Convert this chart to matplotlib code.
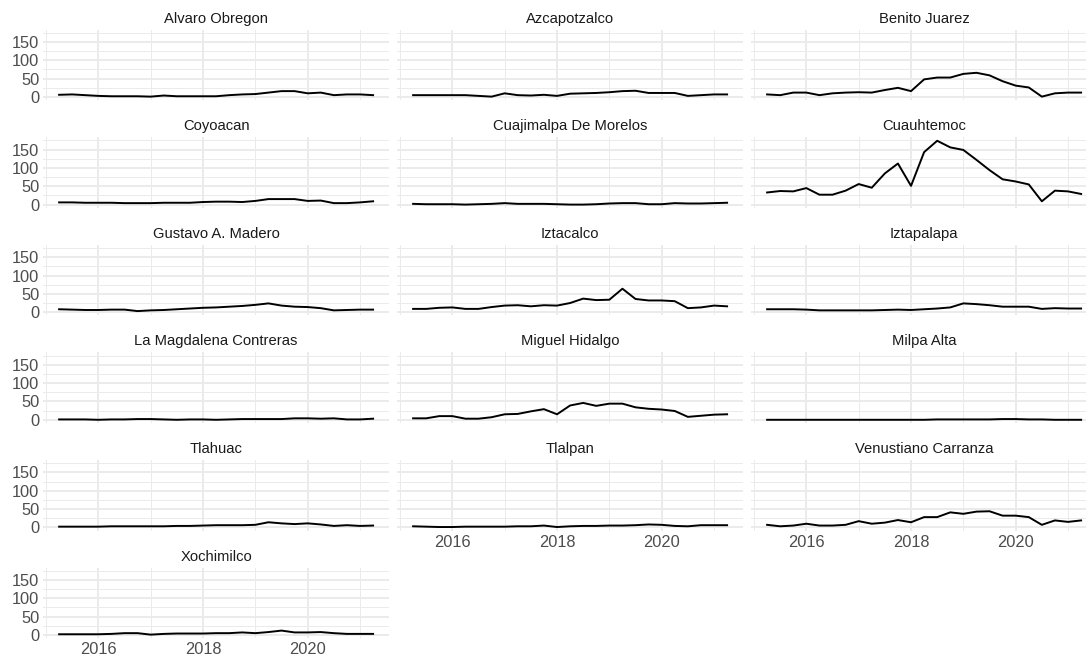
import matplotlib
matplotlib.use("Agg")
import matplotlib.pyplot as plt
from matplotlib.ticker import MultipleLocator

# quarterly time axis (decimal years)
fechas = [2015.25, 2015.5, 2015.75, 2016.0, 2016.25, 2016.5, 2016.75, 2017.0,
          2017.25, 2017.5, 2017.75, 2018.0, 2018.25, 2018.5, 2018.75, 2019.0,
          2019.25, 2019.5, 2019.75, 2020.0, 2020.25, 2020.5, 2020.75, 2021.0,
          2021.25]

alcaldias = ["Alvaro Obregon", "Azcapotzalco", "Benito Juarez", "Coyoacan",
             "Cuajimalpa De Morelos", "Cuauhtemoc", "Gustavo A. Madero",
             "Iztacalco", "Iztapalapa", "La Magdalena Contreras",
             "Miguel Hidalgo", "Milpa Alta", "Tlahuac", "Tlalpan",
             "Venustiano Carranza", "Xochimilco"]

alvaro = [6, 7, 5, 3, 2, 2, 2, 1, 4, 2, 2, 2, 2, 5, 7, 8, 12, 16, 16, 10, 12, 5, 7, 7, 5]
azcapotzalco = [5, 5, 5, 5, 5, 3, 1, 10, 5, 4, 6, 3, 9, 10, 11, 13, 16, 17, 11, 11, 11, 3, 5, 7, 7]
benito = [7, 5, 12, 12, 5, 10, 12, 13, 12, 19, 25, 16, 48, 53, 53, 63, 66, 59, 43, 31, 26, 1, 10, 12, 12]
coyoacan = [6, 6, 5, 5, 5, 4, 4, 4, 5, 5, 5, 7, 8, 8, 7, 10, 15, 15, 15, 10, 11, 4, 4, 6, 9]
cuajimalpa = [2, 1, 1, 1, 0, 1, 2, 4, 2, 2, 2, 1, 0, 0, 1, 3, 4, 4, 1, 1, 4, 3, 3, 4, 5]
cuauhtemoc = [33, 37, 36, 45, 27, 27, 38, 56, 46, 85, 112, 51, 143, 174, 156, 149, 122, 94, 69, 63, 55, 9, 38, 36, 29]
gustavo = [8, 7, 6, 6, 7, 7, 3, 5, 6, 8, 10, 12, 13, 15, 17, 20, 24, 18, 15, 14, 11, 5, 6, 7, 7]
iztacalco = [9, 9, 12, 13, 9, 9, 14, 18, 19, 16, 19, 18, 25, 37, 33, 34, 64, 36, 32, 32, 30, 11, 13, 18, 16]
iztapalapa = [8, 8, 8, 7, 5, 5, 5, 5, 5, 6, 7, 6, 8, 10, 13, 24, 22, 19, 15, 15, 15, 9, 11, 10, 10]
magdalena = [1, 1, 1, 0, 1, 1, 2, 2, 1, 0, 1, 1, 0, 1, 2, 2, 2, 2, 4, 4, 3, 4, 1, 1, 3]
miguel = [4, 4, 10, 10, 3, 3, 7, 15, 16, 23, 29, 15, 39, 46, 38, 44, 44, 34, 30, 28, 24, 8, 11, 14, 15]
milpa = [0, 0, 0, 0, 0, 0, 0, 0, 0, 0, 0, 0, 0, 1, 1, 1, 1, 1, 2, 2, 1, 1, 0, 0, 0]
tlahuac = [2, 2, 2, 2, 3, 3, 3, 3, 3, 4, 4, 5, 6, 6, 6, 7, 14, 11, 9, 11, 8, 4, 6, 4, 5]
tlalpan = [3, 2, 1, 1, 2, 2, 2, 2, 3, 3, 5, 1, 3, 4, 4, 5, 5, 6, 8, 7, 4, 3, 6, 6, 6]
venustiano = [7, 3, 5, 10, 5, 5, 7, 17, 10, 13, 20, 14, 28, 28, 41, 37, 43, 44, 32, 32, 28, 7, 19, 15, 19]
xochimilco = [2, 2, 2, 2, 3, 5, 5, 1, 3, 4, 4, 4, 5, 5, 7, 5, 8, 12, 7, 7, 8, 5, 3, 3, 3]

series = [alvaro, azcapotzalco, benito, coyoacan, cuajimalpa, cuauhtemoc,
          gustavo, iztacalco, iztapalapa, magdalena, miguel, milpa, tlahuac,
          tlalpan, venustiano, xochimilco]

plt.rcParams['font.family'] = ['Liberation Sans', 'DejaVu Sans']

W, H = 1086, 662
fig = plt.figure(figsize=(W / 100, H / 100), dpi=100)

col_left = [43.4, 397.4, 751.4]
pw = 345.4
top0 = 29.6
row_step = 107.6
ph = 70.6
grid_c = "#EBEBEB"

n = len(alcaldias)
for i, (nombre, vals) in enumerate(zip(alcaldias, series)):
    r, c = divmod(i, 3)
    top = top0 + r * row_step
    ax = fig.add_axes([col_left[c] / W, 1 - (top + ph) / H, pw / W, ph / H])
    ax.plot(fechas, vals, color="black", lw=1.4, zorder=3)
    ax.set_xlim(2014.95, 2021.55)
    ax.set_ylim(-8.75, 183.75)
    ax.xaxis.set_major_locator(MultipleLocator(2))
    ax.xaxis.set_minor_locator(MultipleLocator(1))
    ax.yaxis.set_major_locator(MultipleLocator(50))
    ax.yaxis.set_minor_locator(MultipleLocator(25))
    ax.grid(True, which="major", color=grid_c, lw=1.4, zorder=0)
    ax.grid(True, which="minor", color=grid_c, lw=0.7, zorder=0)
    for s in ax.spines.values():
        s.set_visible(False)
    ax.tick_params(which="both", length=0, labelsize=11.8, colors="#4D4D4D", pad=3)
    ax.set_xticks([2015.0, 2017.0, 2019.0, 2021.0], minor=True)
    ax.set_xticks([2016, 2018, 2020])
    ax.set_xticklabels(["2016", "2018", "2020"])
    if c != 0:
        ax.tick_params(axis="y", labelleft=False)
    last_in_col = (i + 3 >= n)
    if not last_in_col:
        ax.tick_params(axis="x", labelbottom=False)
    ax.set_title(nombre, fontsize=10.6, color="#1A1A1A", pad=5)

fig.savefig("out.png", dpi=100, facecolor="white")
